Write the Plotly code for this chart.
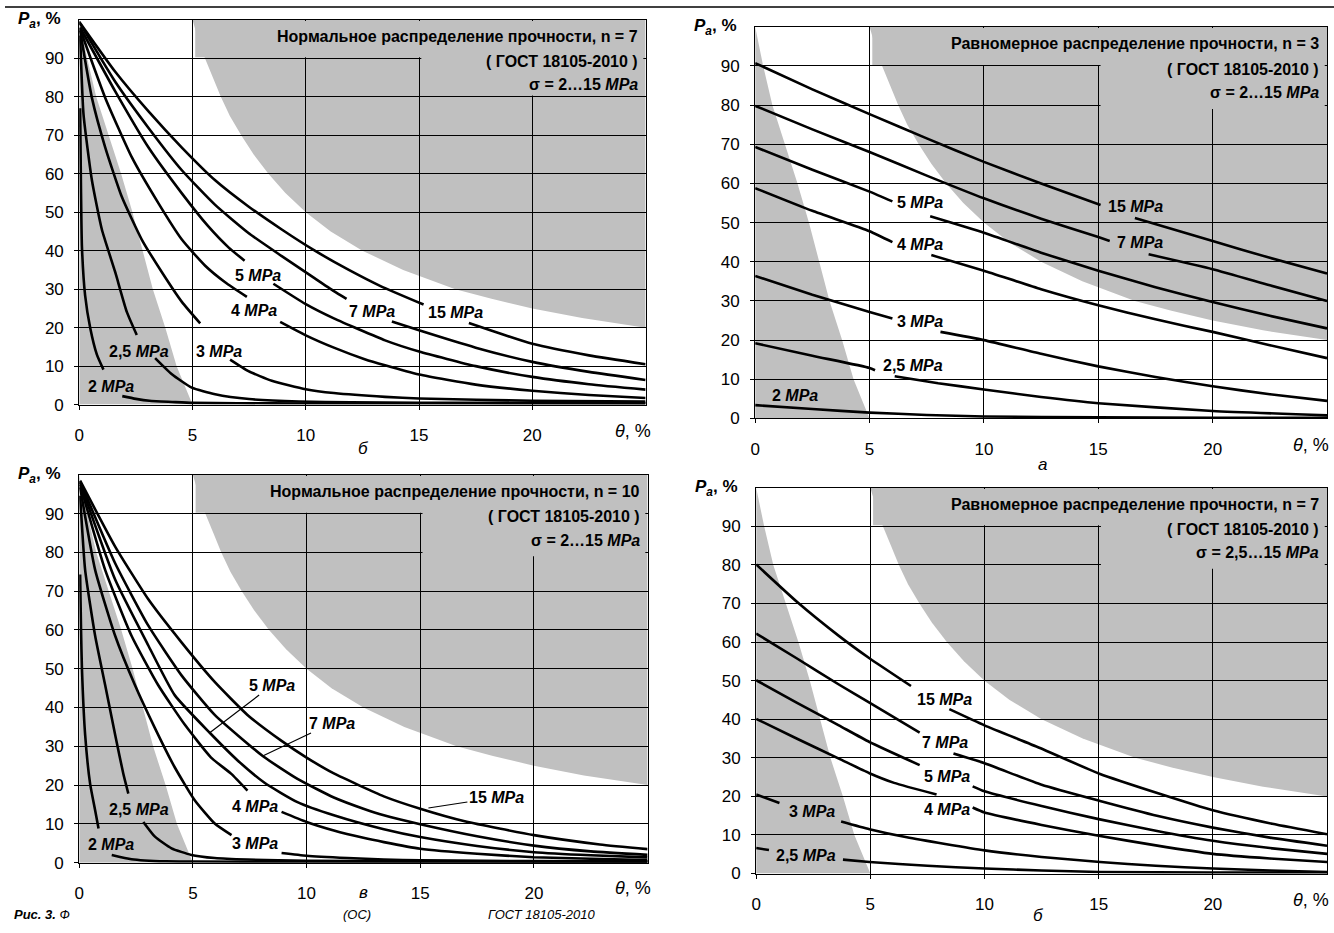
import plotly.graph_objects as go

# ---------------- data ----------------
theta_ticks = [0, 5, 10, 15, 20]
pa_ticks = [0, 10, 20, 30, 40, 50, 60, 70, 80, 90]

# grey zones
zone_left_x = [0, 0.35, 0.75, 1.3, 1.85, 2.35, 2.8, 3.25, 3.8, 4.3, 5.0]
zone_left_y = [100, 90, 80, 70, 60, 50, 40, 30, 20, 10, 0]
zone_right_x = [5, 5.25, 5.55, 5.9, 6.25, 6.65, 7.15, 7.7, 8.35, 9.1, 10, 11.1, 12.5, 14.3, 16.6, 18.2, 20, 22.2, 25]
zone_right_y = [100, 95, 90, 85, 80, 75, 70, 65, 60, 55, 50, 45, 40, 35, 30, 27.5, 25, 22.5, 20]

# ---- panel "б" (top-left): normal distribution, n = 7 ----
tl_x_2 = [0.04, 0.08, 0.12, 0.26, 0.49, 0.78, 1.07, None, 1.9, 2.5, 3.1, 4.1, 5, 7, 10, 15, 20, 25]
tl_y_2 = [77, 55, 41, 28.4, 19.8, 13, 9.1, None, 2.2, 1.5, 1.0, 0.7, 0.45, 0.35, 0.3, 0.3, 0.3, 0.3]
tl_x_25 = [0.04, 0.19, 0.56, 1.0, 1.59, 2.1, 2.54, None, 3.35, 4.09, 4.97, 6, 7.5, 9.7, 12, 15, 20, 25]
tl_y_25 = [95.9, 75.4, 58.3, 45.5, 34.4, 24.1, 18.1, None, 12.1, 7.9, 4.4, 2.7, 1.45, 0.8, 0.6, 0.5, 0.45, 0.4]
tl_x_3 = [0.04, 0.56, 1.15, 1.88, 2.76, 3.65, 4.53, 5.34, None, 6.66, 7.47, 8.5, 10, 11.24, 13.5, 15, 20, 25]
tl_y_3 = [97.2, 79.7, 66.8, 54, 42.9, 34.4, 26.7, 21.1, None, 11.7, 8.7, 6.2, 4.0, 3.0, 2.0, 1.6, 1.0, 0.8]
tl_x_4 = [0.04, 1.15, 2.32, 3.5, 4.53, 5.56, 6.44, 7.4, None, 8.87, 10, 11.24, 12.6, 13.5, 15, 17.5, 20, 22.5, 25]
tl_y_4 = [97.6, 79.7, 64.3, 52.3, 42.9, 36.1, 31.8, 28, None, 21.5, 18.0, 14.8, 11.8, 10.2, 7.8, 5.2, 3.6, 2.5, 1.7]
tl_x_5 = [0.04, 1.59, 3.06, 4.53, 5.7, 6.6, 7.3, None, 8.57, 10, 11.24, 13.5, 15, 17.5, 20, 22.5, 25]
tl_y_5 = [98, 81.4, 66.8, 54.9, 46.3, 40.8, 37.4, None, 31.4, 26.1, 22.4, 16.7, 13.8, 10.0, 7.2, 5.3, 3.9]
tl_x_7 = [0.04, 1.59, 3.06, 4.53, 6, 7.47, 8.94, 10.4, 11.24, 11.8, None, 13.8, 15, 17.5, 20, 22.5, 25]
tl_y_7 = [99, 83.9, 71.9, 60.9, 51.9, 44.6, 38.6, 32.8, 29.5, 27.5, None, 21.6, 19.3, 14.8, 11.1, 8.5, 6.4]
tl_x_15 = [0, 1.59, 3.06, 4.53, 6, 7.47, 8.94, 10.4, 11.9, 13.3, 15.2, None, 17.2, 20, 22.5, 25]
tl_y_15 = [99.5, 86.5, 76.2, 66.8, 58.3, 51.5, 45.5, 40.0, 35.0, 30.8, 26.0, None, 21.2, 15.8, 12.8, 10.5]

# ---- panel "а" (top-right): uniform distribution, n = 3 ----
tr_x_2 = [0, 2.5, 5, 7.5, 10, 15, 20, 25]
tr_y_2 = [3.4, 2.4, 1.5, 0.9, 0.5, 0.3, 0.2, 0.2]
tr_x_25 = [0, 2.5, 5, 5.24, None, 6.1, 8, 10, 12.5, 15, 20, 25]
tr_y_25 = [19.2, 16, 12.9, 12.3, None, 10.8, 9, 7.4, 5.5, 3.9, 1.9, 0.8]
tr_x_3 = [0, 2.5, 5, 6, None, 8.1, 10, 12.5, 15, 17.5, 20, 22.5, 25]
tr_y_3 = [36.4, 31.6, 27.2, 25.5, None, 22.1, 20, 16.5, 13.3, 10.6, 8.2, 6.2, 4.5]
tr_x_4 = [0, 2.5, 5, 6, None, 7.7, 10, 12.5, 15, 17.5, 20, 22.5, 25]
tr_y_4 = [58.8, 53, 47.8, 45, None, 41.7, 37.7, 33, 28.9, 25.3, 22.1, 18.7, 15.4]
tr_x_5 = [0, 2.5, 5, 6, None, 7.65, 10, 12.5, 15, 17.5, 20, 22.5, 25]
tr_y_5 = [69.3, 63.5, 57.9, 55.4, None, 51.6, 47.4, 42.3, 37.7, 33.5, 29.7, 26.2, 23]
tr_x_7 = [0, 2.5, 5, 7.5, 10, 12.5, 15, 15.5, None, 17.2, 20, 22.5, 25]
tr_y_7 = [79.8, 73.8, 68, 62, 56.2, 51, 46.3, 45.3, None, 41.9, 38.1, 34, 30]
tr_x_15 = [0, 2.5, 5, 7.5, 10, 12.5, 15.1, None, 16.6, 20, 22.5, 25]
tr_y_15 = [90.7, 84, 77.7, 71.5, 65.5, 60, 54.5, None, 51.2, 45.3, 41, 37]

# ---- panel "в" (bottom-left): normal distribution, n = 10 ----
bl_x_2 = [0.04, 0.08, 0.12, 0.26, 0.48, 0.7, 0.85, None, 1.43, 2.3, 3.8, 5, 10, 25]
bl_y_2 = [74.3, 60, 50, 33, 20.3, 13.5, 8.8, None, 2.0, 0.9, 0.35, 0.3, 0.2, 0.2]
bl_x_25 = [0.04, 0.26, 0.7, 1.14, 1.58, 1.94, 2.16, None, 2.82, 3.33, 4.06, 4.93, 5.96, 7.4, 10, 15, 25]
bl_y_25 = [94.6, 75.5, 58.5, 45.8, 33, 22.9, 17.8, None, 10.5, 6.7, 3.7, 2.0, 1.2, 0.8, 0.5, 0.4, 0.3]
bl_x_3 = [0.04, 0.7, 1.58, 2.45, 3.33, 4.2, 5.08, 5.96, 6.7, None, 8.9, 10, 11.8, 13.4, 15, 20, 25]
bl_y_3 = [96.8, 75.5, 58.5, 45.8, 34.7, 24.6, 16.1, 10.1, 7.1, None, 2.5, 1.8, 1.2, 0.8, 0.6, 0.4, 0.3]
bl_x_4 = [0.04, 1.14, 2.3, 3.47, 4.64, 5.8, 6.69, 7.4, None, 8.9, 10, 11.2, 12.5, 13.4, 15, 17.5, 20, 22.5, 25]
bl_y_4 = [97.5, 75.5, 58.5, 45.8, 35.6, 27.1, 22.9, 18.6, None, 13.1, 10.5, 8.3, 6.4, 5.3, 3.6, 2.3, 1.4, 1.0, 0.7]
bl_x_5 = [0.04, 1.58, 3.04, 4.2, 5.74, 6.98, 8.15, 9.6, 11.2, 13.4, 15, 17.5, 20, 22.5, 25]
bl_y_5 = [98, 73, 56, 43.2, 33.5, 26.3, 20.6, 15.6, 12.2, 8.6, 6.6, 4.3, 2.7, 1.9, 1.35]
bl_x_7 = [0.04, 1.58, 3.04, 4.5, 5.96, 8.07, 9.6, 11.2, 12.5, 13.4, 15, 17.5, 20, 22.5, 25]
bl_y_7 = [98.3, 77.2, 61.1, 48.3, 38.1, 27.5, 21.6, 16.8, 13.9, 12.2, 9.9, 6.8, 4.4, 2.9, 2.0]
bl_x_15 = [0.04, 1.58, 3.04, 4.5, 5.96, 7.4, 8.9, 10, 11.2, 13.4, 15, 17, 20, 22.9, 25]
bl_y_15 = [98.5, 81.5, 67.9, 56.8, 46.6, 38.1, 31.4, 27.1, 23.0, 17.1, 13.9, 10.6, 7.1, 4.7, 3.5]

# ---- panel "б" (bottom-right): uniform distribution, n = 7 ----
br_x_25 = [0, 0.56, None, 3.8, 4.96, 7.5, 10, 12.5, 15, 20, 25]
br_y_25 = [6.6, 6.1, None, 3.6, 3.0, 2.0, 1.3, 0.8, 0.4, 0.25, 0.2]
br_x_3 = [0, 1.02, None, 3.72, 4.96, 6.6, 10, 12.5, 15.06, 17.5, 20, 22.5, 25]
br_y_3 = [20.5, 18.3, None, 13.5, 11.5, 9.4, 6.0, 4.3, 3.0, 2.0, 1.3, 0.8, 0.4]
br_x_4 = [0, 1.77, 3.62, 4.96, 6.04, 7.9, None, 9.48, 10, 12.5, 15, 17.5, 20, 22.5, 25]
br_y_4 = [40.1, 35, 29.8, 26, 23.5, 20.5, None, 17.1, 15.8, 12.6, 9.8, 7.3, 5.1, 3.9, 3.0]
br_x_5 = [0, 1.77, 3.62, 4.96, 7.16, None, 9.48, 10, 12.5, 15, 17.5, 20, 22.5, 25]
br_y_5 = [50.1, 44.3, 38.4, 34.1, 28.1, None, 22.6, 21.3, 17.5, 14.1, 11.1, 8.5, 6.6, 5.1]
br_x_7 = [0, 1.77, 3.62, 4.96, 7.16, None, 8.64, 10, 12.5, 15.06, 17.6, 20, 22.5, 25]
br_y_7 = [62.2, 55.8, 49.0, 44.3, 36.5, None, 31.1, 28.6, 23.0, 18.8, 14.9, 11.9, 9.3, 7.2]
br_x_15 = [0, 1.77, 3.62, 4.96, 6.78, None, 8.46, 10, 12.4, 15.06, 17.6, 20, 22.6, 25]
br_y_15 = [80.1, 70.5, 61.6, 55.8, 48.6, None, 42.6, 38.4, 32.6, 25.8, 20.8, 16.4, 12.9, 10.2]

# curve labels: text, x, y
tl_labels = [("2", 1.42, 4.7), ("2,5", 2.62, 13.9), ("3", 6.18, 13.7), ("4", 7.72, 24.4),
             ("5", 7.9, 33.6), ("7", 12.92, 24.2), ("15", 16.59, 23.9)]
tr_labels = [("2", 1.72, 5.8), ("2,5", 6.91, 13.4), ("3", 7.19, 24.7), ("4", 7.19, 44.5),
             ("5", 7.19, 55.1), ("7", 16.83, 44.8), ("15", 16.64, 54.2)]
bl_labels = [("2", 1.41, 4.8), ("2,5", 2.61, 13.7), ("3", 7.72, 5.0), ("4", 7.72, 14.5)]
bl_leaders = [("5", 8.49, 45.8, 5.74, 33.5), ("7", 11.12, 36.0, 8.07, 27.5), ("15", 18.35, 16.8, 15.36, 14.1)]
br_labels = [("2,5", 2.18, 4.6), ("3", 2.43, 16.2), ("4", 8.36, 16.6), ("5", 8.36, 25.1),
             ("7", 8.27, 33.9), ("15", 8.23, 45.2)]

titles = ["Нормальное распределение прочности, n = 7",
          "Равномерное распределение прочности, n = 3",
          "Нормальное распределение прочности, n = 10",
          "Равномерное распределение прочности, n = 7"]
sigma_ranges = ["2…15", "2…15", "2…15", "2,5…15"]
panel_letters = ["б", "а", "в", "б"]

# ---------------- figure ----------------
FONT = "Liberation Sans, Arial, sans-serif"
GREY = "#c0c0c0"
W, H = 1334, 933

# panel pixel boxes (left, right, top, bottom)
boxes = [(74.5, 643, 20, 409), (753, 1327, 27, 423), (74.5, 645, 480, 872), (754, 1327, 493, 883)]
# theta label: right edge x, centre y
theta_pos = [(650, 436), (1331, 450), (650, 898), (1331, 910)]
letter_pos = [(360, 453), (1041, 470), (360, 902), (1037, 925)]

fig = go.Figure()

panels = [
    [(tl_x_2, tl_y_2), (tl_x_25, tl_y_25), (tl_x_3, tl_y_3), (tl_x_4, tl_y_4), (tl_x_5, tl_y_5), (tl_x_7, tl_y_7), (tl_x_15, tl_y_15)],
    [(tr_x_2, tr_y_2), (tr_x_25, tr_y_25), (tr_x_3, tr_y_3), (tr_x_4, tr_y_4), (tr_x_5, tr_y_5), (tr_x_7, tr_y_7), (tr_x_15, tr_y_15)],
    [(bl_x_2, bl_y_2), (bl_x_25, bl_y_25), (bl_x_3, bl_y_3), (bl_x_4, bl_y_4), (bl_x_5, bl_y_5), (bl_x_7, bl_y_7), (bl_x_15, bl_y_15)],
    [(br_x_25, br_y_25), (br_x_3, br_y_3), (br_x_4, br_y_4), (br_x_5, br_y_5), (br_x_7, br_y_7), (br_x_15, br_y_15)],
]

def lbl(v):
    return "<b>%s <i>MPa</i></b>" % v

annotations = []
shapes = []
for i, curves in enumerate(panels):
    n = "" if i == 0 else str(i + 1)
    xr, yr = "x" + n, "y" + n
    for cx, cy in curves:
        fig.add_trace(go.Scatter(x=cx, y=cy, mode="lines", xaxis=xr, yaxis=yr,
                                 line=dict(color="black", width=2.6, shape="spline", smoothing=0.5),
                                 connectgaps=False, showlegend=False, hoverinfo="skip"))
    l, r, t, b = boxes[i]
    fig.layout["xaxis" + n] = dict(
        domain=[l / W, r / W], anchor=yr, range=[0, 25], tickvals=theta_ticks,
        showgrid=True, gridcolor="black", gridwidth=1, zeroline=False,
        showline=True, linecolor="black", linewidth=1, mirror=True,
        ticks="outside", ticklen=4, tickcolor="black", ticklabelstandoff=11,
        tickfont=dict(family=FONT, size=17, color="black"), fixedrange=True)
    fig.layout["yaxis" + n] = dict(
        domain=[1 - b / H, 1 - t / H], anchor=xr, range=[0, 100], tickvals=pa_ticks,
        showgrid=True, gridcolor="black", gridwidth=1, zeroline=False,
        showline=True, linecolor="black", linewidth=1, mirror=True,
        ticks="outside", ticklen=4, tickcolor="black", ticklabelstandoff=7,
        tickfont=dict(family=FONT, size=17, color="black"), fixedrange=True)

    # grey zones (below grid)
    p_left = "M 0,0 " + " ".join("L %g,%g" % (x, y) for x, y in zip(zone_left_x, zone_left_y)) + " Z"
    p_right = "M 25,100 " + " ".join("L %g,%g" % (x, y) for x, y in zip(zone_right_x, zone_right_y)) + " Z"
    for p in (p_left, p_right):
        shapes.append(dict(type="path", path=p, xref=xr, yref=yr, fillcolor=GREY,
                           line=dict(width=0), layer="below"))
    # text-box masks (hide grid lines behind the captions)
    low_b = 80.3 if i == 0 else 79.0
    shapes.append(dict(type="rect", xref=xr, yref=yr, x0=5.12, x1=24.9, y0=90.25, y1=99.7,
                       fillcolor=GREY, line=dict(width=0), layer="between"))
    shapes.append(dict(type="rect", xref=xr, yref=yr, x0=15.1, x1=24.9, y0=low_b, y1=90.3,
                       fillcolor=GREY, line=dict(width=0), layer="between"))

    # captions inside the panel
    for txt, yy in ((titles[i], 95.7), ("( ГОСТ 18105-2010 )", 89.2), ("σ = %s <i>MPa</i>" % sigma_ranges[i], 83.2)):
        annotations.append(dict(text="<b>%s</b>" % txt, x=25, y=yy, xref=xr, yref=yr,
                                xanchor="right", yanchor="middle", xshift=-6, showarrow=False,
                                font=dict(family=FONT, size=16, color="black")))
    # axis names
    annotations.append(dict(text="<b><i>P</i></b><sub><b><i>a</i></b></sub><b>, %</b>", x=0, y=100,
                            xref=xr, yref=yr, xanchor="right", yanchor="middle", xshift=-16,
                            showarrow=False, font=dict(family=FONT, size=17, color="black")))
    tx, ty = theta_pos[i]
    annotations.append(dict(text="<i>θ</i>, %", x=tx / W, y=1 - ty / H, xref="paper", yref="paper",
                            xanchor="right", yanchor="middle", showarrow=False,
                            font=dict(family=FONT, size=18, color="black")))
    lx_, ly_ = letter_pos[i]
    annotations.append(dict(text="<i>%s</i>" % panel_letters[i], x=lx_ / W, y=1 - ly_ / H,
                            xref="paper", yref="paper", xanchor="center", yanchor="middle",
                            showarrow=False, font=dict(family=FONT, size=17, color="black")))

    lab = [tl_labels, tr_labels, bl_labels, br_labels][i]
    for v, lx, ly in lab:
        annotations.append(dict(text=lbl(v), x=lx, y=ly, xref=xr, yref=yr, showarrow=False,
                                xanchor="center", yanchor="middle",
                                font=dict(family=FONT, size=16, color="black")))
    if i == 2:
        for v, lx, ly, px, py in bl_leaders:
            annotations.append(dict(text=lbl(v), x=px, y=py, ax=lx, ay=ly, xref=xr, yref=yr,
                                    axref=xr, ayref=yr, showarrow=True, arrowhead=0,
                                    arrowwidth=1.2, arrowcolor="black", standoff=0,
                                    font=dict(family=FONT, size=16, color="black")))

# page top rule and caption at the bottom
shapes.append(dict(type="line", xref="paper", yref="paper", x0=0, x1=1, y0=1 - 7 / H, y1=1 - 7 / H,
                   line=dict(color="black", width=1.5)))
for txt, px in (("<b><i>Рис. 3.</i></b> <i>Ф</i>", 8), ("<i>(ОС)</i>", 338), ("<i>ГОСТ 18105-2010</i>", 484)):
    annotations.append(dict(text=txt, x=px / W, y=0, xref="paper", yref="paper",
                            xanchor="left", yanchor="bottom", showarrow=False, borderpad=0,
                            font=dict(family=FONT, size=13, color="black")))

fig.update_layout(width=W, height=H, margin=dict(l=0, r=0, t=0, b=0),
                  paper_bgcolor="white", plot_bgcolor="white",
                  shapes=shapes, annotations=annotations, showlegend=False)

fig.write_html("out.html", config={"displayModeBar": False})
